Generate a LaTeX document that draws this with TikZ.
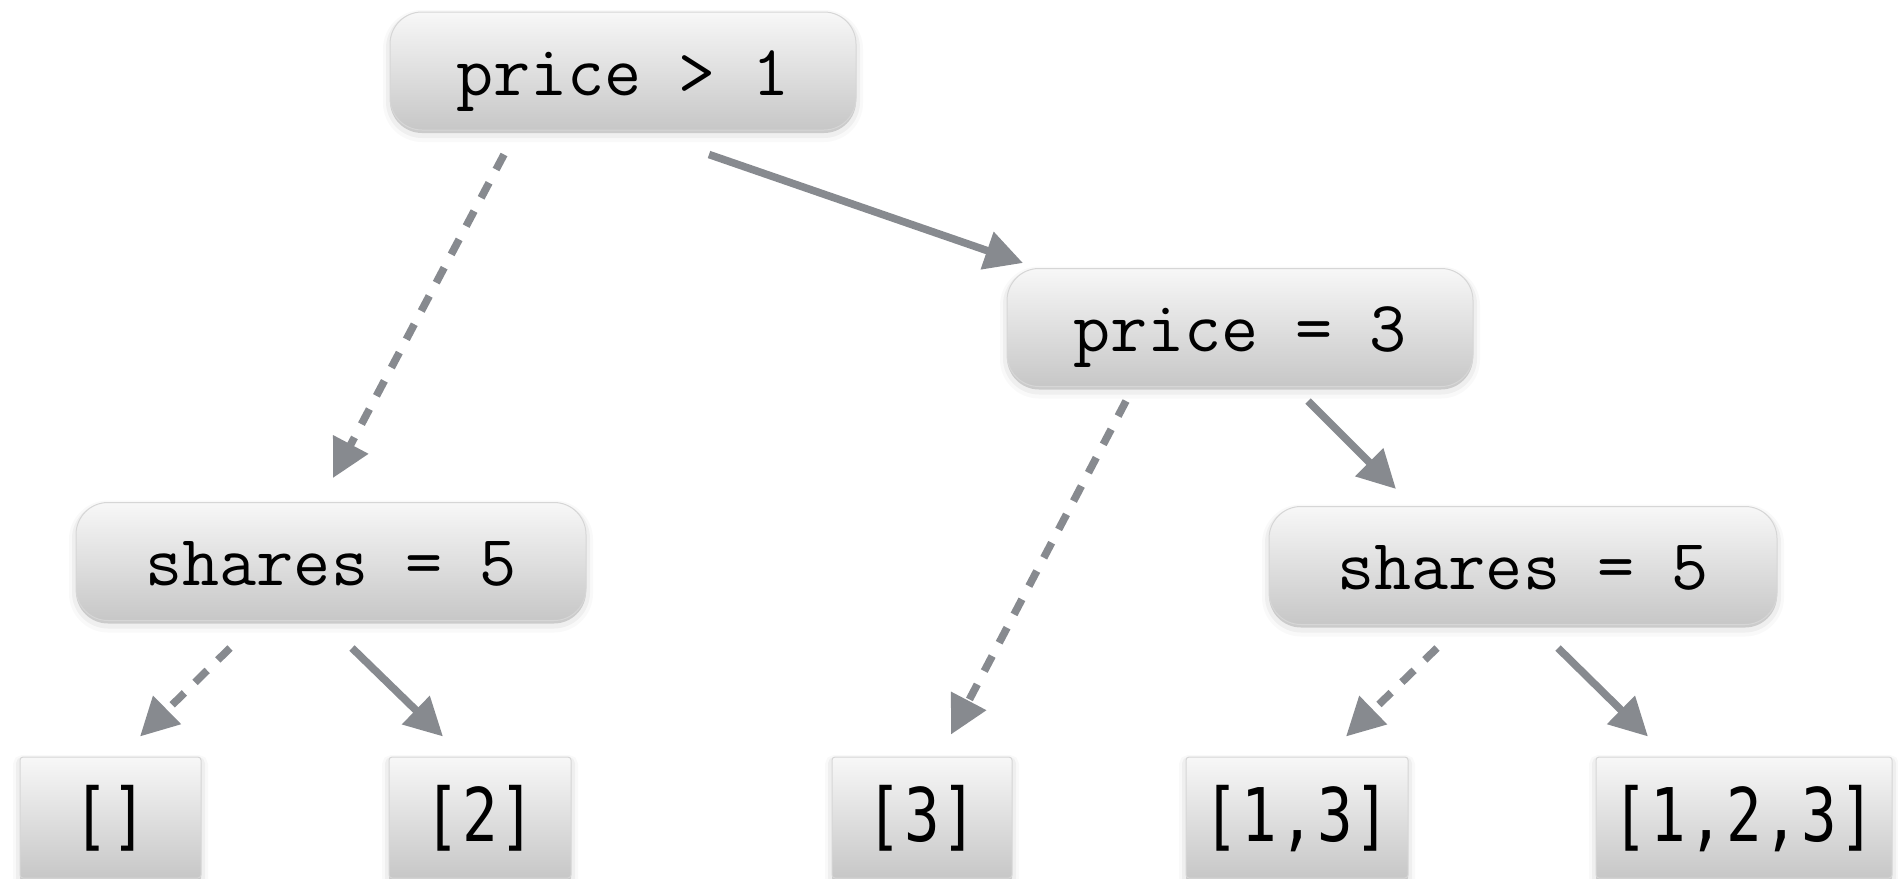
\documentclass[tikz,border=0pt]{standalone}
\usepackage{fontspec}
\usetikzlibrary{arrows.meta,shadows}
\newfontfamily\leaffont[FakeStretch=0.8,LetterSpace=3]{DejaVu Sans Mono}
\definecolor{arrowgray}{RGB}{135,138,143}

\begin{document}
\begin{tikzpicture}[x=0.5pt,y=-0.5pt,
  boxbase/.style={draw=black!16, line width=0.5pt,
    top color=black!3, bottom color=black!22,
    general shadow={shadow yshift=-2.5pt, draw=black, line width=7pt, opacity=0.025},
    general shadow={shadow yshift=-2pt, draw=black, line width=4pt, opacity=0.04},
    general shadow={shadow yshift=-1.5pt, fill=black, opacity=0.15}},
  cond/.style={boxbase, rounded corners=16pt, minimum width=233pt,
    minimum height=59pt, inner sep=0pt,
    font=\ttfamily\fontsize{36}{36}\selectfont, text height=24pt, text depth=0pt},
  leafbox/.style={boxbase, rounded corners=1.5pt, minimum height=60.5pt, inner sep=0pt,
    font=\leaffont\fontsize{37}{37}\selectfont, text height=23.5pt, text depth=0pt},
  arr/.style={draw=arrowgray, line width=3.8pt, -{Triangle[length=19pt,width=19pt]}},
  dasharr/.style={arr, dash pattern=on 8.5pt off 7.5pt}
]
\useasboundingbox (0,0) rectangle (1898,878);

% decision nodes
\node[cond] (top) at (623,71) {price > 1};
\node[cond] (p3) at (1240,327.5) {price = 3};
\node[cond, minimum width=255pt] (ls) at (331,561.5) {shares = 5};
\node[cond, minimum width=254pt] (rs) at (1523,565.5) {shares = 5};

% result leaves
\node[leafbox, minimum width=90.5pt] (l0) at (110.5,817.5) {[]};
\node[leafbox, minimum width=91pt] (l2) at (480,817.5) {[2]};
\node[leafbox, minimum width=90pt] (l3) at (922,817.5) {[3]};
\node[leafbox, minimum width=111pt] (l13) at (1297,817.5) {[1,3]};
\node[leafbox, minimum width=148pt] (l123) at (1744,817.5) {[1,2,3]};

% branches: dashed = false, solid = true
\draw[dasharr] ([xshift=-59.5pt,yshift=-12pt]top.south) -- ([xshift=1pt,yshift=12pt]ls.north);
\draw[arr] ([xshift=43pt,yshift=-12pt]top.south) -- ([xshift=-108.5pt,yshift=2.5pt]p3.north);
\draw[dasharr] ([xshift=-57pt,yshift=-7pt]p3.south) -- ([xshift=14.5pt,yshift=11pt]l3.north);
\draw[arr] ([xshift=34pt,yshift=-7pt]p3.south) -- ([xshift=-63.5pt,yshift=8.5pt]rs.north);
\draw[dasharr] ([xshift=-50.5pt,yshift=-13.5pt]ls.south) -- ([xshift=14.75pt,yshift=10pt]l0.north);
\draw[arr] ([xshift=10.5pt,yshift=-13.5pt]ls.south) -- ([xshift=-18.5pt,yshift=10pt]l2.north);
\draw[dasharr] ([xshift=-43pt,yshift=-11.5pt]rs.south) -- ([xshift=24.5pt,yshift=10pt]l13.north);
\draw[arr] ([xshift=17.5pt,yshift=-11.5pt]rs.south) -- ([xshift=-48pt,yshift=10pt]l123.north);
\end{tikzpicture}
\end{document}
